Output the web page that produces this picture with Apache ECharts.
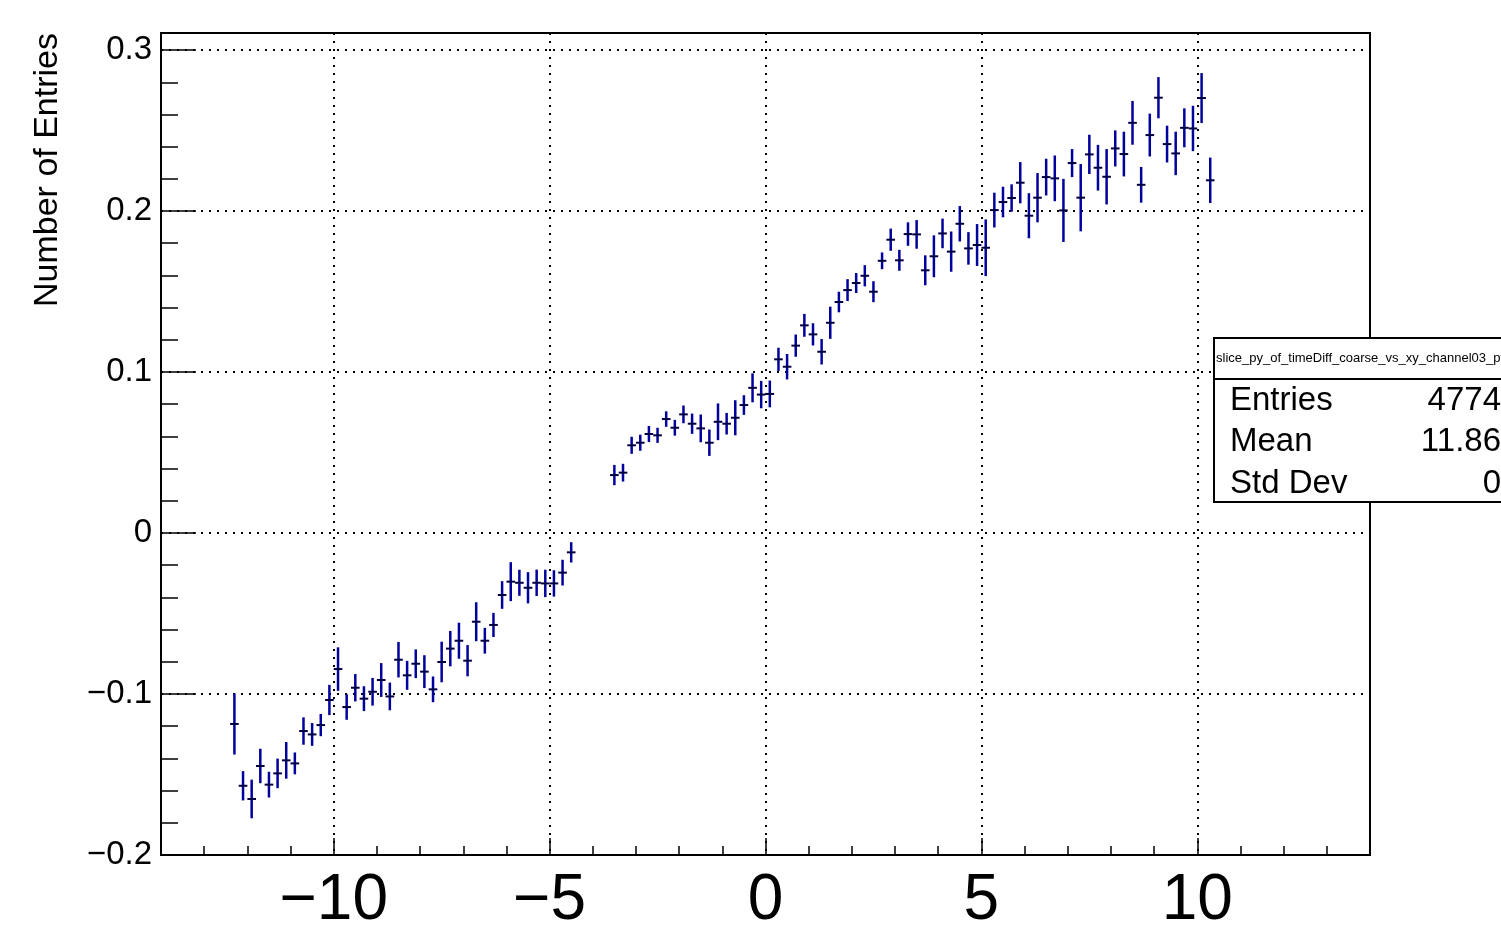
<!DOCTYPE html>
<html>
<head>
<meta charset="utf-8">
<title>slice_py_of_timeDiff_coarse_vs_xy_channel03</title>
<script src="https://cdn.jsdelivr.net/npm/echarts@6/dist/echarts.min.js"></script>
<style>
  html, body { margin: 0; padding: 0; background: #fff; }
  #chart { width: 1501px; height: 925px; }
</style>
</head>
<body>
<div id="chart"></div>
<script>
// Bin centres (bin width 0.2); the empty bins between -4.5 and -3.5 are left out
const binCenters = [
  -12.3, -12.1, -11.9, -11.7, -11.5, -11.3, -11.1, -10.9, -10.7, -10.5,
  -10.3, -10.1, -9.9, -9.7, -9.5, -9.3, -9.1, -8.9, -8.7, -8.5,
  -8.3, -8.1, -7.9, -7.7, -7.5, -7.3, -7.1, -6.9, -6.7, -6.5,
  -6.3, -6.1, -5.9, -5.7, -5.5, -5.3, -5.1, -4.9, -4.7, -4.5,
  -3.5, -3.3, -3.1, -2.9, -2.7, -2.5, -2.3, -2.1, -1.9, -1.7,
  -1.5, -1.3, -1.1, -0.9, -0.7, -0.5, -0.3, -0.1, 0.1, 0.3,
  0.5, 0.7, 0.9, 1.1, 1.3, 1.5, 1.7, 1.9, 2.1, 2.3,
  2.5, 2.7, 2.9, 3.1, 3.3, 3.5, 3.7, 3.9, 4.1, 4.3,
  4.5, 4.7, 4.9, 5.1, 5.3, 5.5, 5.7, 5.9, 6.1, 6.3,
  6.5, 6.7, 6.9, 7.1, 7.3, 7.5, 7.7, 7.9, 8.1, 8.3,
  8.5, 8.7, 8.9, 9.1, 9.3, 9.5, 9.7, 9.9, 10.1, 10.3
];

// Bin contents
const binValues = [
  -0.1186, -0.1570, -0.1652, -0.1447, -0.1563, -0.1493, -0.1412, -0.1431, -0.1230, -0.1251,
  -0.1193, -0.1037, -0.0845, -0.1081, -0.0961, -0.1029, -0.0986, -0.0913, -0.1015, -0.0787,
  -0.0884, -0.0812, -0.0861, -0.0971, -0.0801, -0.0718, -0.0669, -0.0793, -0.0551, -0.0669,
  -0.0571, -0.0385, -0.0302, -0.0309, -0.0340, -0.0309, -0.0313, -0.0313, -0.0246, -0.0120,
  0.0360, 0.0375, 0.0545, 0.0561, 0.0615, 0.0607, 0.0708, 0.0654, 0.0737, 0.0679,
  0.0650, 0.0561, 0.0691, 0.0679, 0.0716, 0.0795, 0.0902, 0.0860, 0.0864, 0.1079,
  0.1033, 0.1164, 0.1290, 0.1234, 0.1126, 0.1306, 0.1435, 0.1509, 0.1553, 0.1598,
  0.1499, 0.1691, 0.1822, 0.1694, 0.1857, 0.1855, 0.1632, 0.1719, 0.1861, 0.1748,
  0.1921, 0.1768, 0.1789, 0.1772, 0.2006, 0.2056, 0.2081, 0.2176, 0.1971, 0.2083,
  0.2211, 0.2203, 0.2004, 0.2298, 0.2083, 0.2352, 0.2269, 0.2213, 0.2389, 0.2354,
  0.2548, 0.2163, 0.2472, 0.2704, 0.2416, 0.2358, 0.2517, 0.2513, 0.2702, 0.2191
];

// Bin errors
const binErrors = [
  0.0190, 0.0091, 0.0120, 0.0107, 0.0080, 0.0092, 0.0114, 0.0068, 0.0085, 0.0071,
  0.0069, 0.0094, 0.0135, 0.0079, 0.0085, 0.0077, 0.0086, 0.0105, 0.0086, 0.0110,
  0.0090, 0.0089, 0.0102, 0.0080, 0.0126, 0.0110, 0.0112, 0.0097, 0.0121, 0.0080,
  0.0075, 0.0086, 0.0121, 0.0081, 0.0097, 0.0082, 0.0085, 0.0082, 0.0080, 0.0063,
  0.0063, 0.0055, 0.0053, 0.0050, 0.0050, 0.0047, 0.0048, 0.0049, 0.0055, 0.0063,
  0.0086, 0.0082, 0.0114, 0.0067, 0.0109, 0.0061, 0.0090, 0.0085, 0.0083, 0.0072,
  0.0079, 0.0069, 0.0071, 0.0069, 0.0079, 0.0100, 0.0064, 0.0068, 0.0062, 0.0066,
  0.0065, 0.0052, 0.0069, 0.0065, 0.0073, 0.0089, 0.0093, 0.0130, 0.0092, 0.0125,
  0.0110, 0.0101, 0.0130, 0.0176, 0.0108, 0.0095, 0.0085, 0.0128, 0.0140, 0.0153,
  0.0114, 0.0142, 0.0196, 0.0087, 0.0209, 0.0122, 0.0142, 0.0172, 0.0112, 0.0139,
  0.0136, 0.0111, 0.0133, 0.0128, 0.0114, 0.0135, 0.0121, 0.0141, 0.0155, 0.0141
];

const binWidth = 0.2;

// Axis ticks
const xMajorTicks = [-10, -5, 0, 5, 10];
const yMajorTicks = [-0.2, -0.1, 0, 0.1, 0.2, 0.3];

// Stats box
const statsTitle = 'slice_py_of_timeDiff_coarse_vs_xy_channel03_py';
const statsNames = ['Entries', 'Mean', 'Std Dev'];
const statsValues = ['4774', '11.86', '0'];

const FONT = '"Liberation Sans", Arial, Helvetica, sans-serif';
const MINUS = '\u2212';

function fmt(v) {
  const r = Math.round(v * 1000) / 1000;
  if (r === 0) return '0';
  return r < 0 ? MINUS + String(-r) : String(r);
}

const seriesData = binCenters.map((x, i) => [x, binValues[i], binErrors[i]]);

const dotted = { color: '#000', width: 2, type: [2, 6] };

const chart = echarts.init(document.getElementById('chart'), null, { renderer: 'canvas' });

const statsGraphic = [
  {
    type: 'rect', z: 100,
    shape: { x: 1214, y: 338, width: 400, height: 164 },
    style: { fill: '#fff', stroke: '#000', lineWidth: 2 }
  },
  {
    type: 'line', z: 101,
    shape: { x1: 1214, y1: 379, x2: 1614, y2: 379 },
    style: { stroke: '#000', lineWidth: 2 }
  },
  {
    type: 'text', z: 101, x: 1216, y: 358,
    style: { text: statsTitle, font: '13px ' + FONT, fill: '#000', textVerticalAlign: 'middle' }
  }
];
const rowY = [401, 442, 484];
statsNames.forEach((name, i) => {
  statsGraphic.push({
    type: 'text', z: 101, x: 1230, y: rowY[i],
    style: { text: name, font: '33px ' + FONT, fill: '#000', textVerticalAlign: 'middle' }
  });
  statsGraphic.push({
    type: 'text', z: 101, x: 1501, y: rowY[i],
    style: { text: statsValues[i], font: '33px ' + FONT, fill: '#000', textAlign: 'right', textVerticalAlign: 'middle' }
  });
});

const option = {
  animation: false,
  backgroundColor: '#fff',
  grid: {
    left: 161, right: 131, top: 33, bottom: 70,
    containLabel: false, outerBoundsMode: 'none',
    show: true, borderColor: '#000', borderWidth: 2, backgroundColor: 'transparent'
  },
  xAxis: [
    {
      type: 'value', min: -14, max: 14, interval: 1,
      axisLine: { show: true, onZero: false, lineStyle: { color: '#000', width: 2 } },
      axisTick: { show: true, inside: true, length: 9, lineStyle: { color: '#000', width: 1.5 } },
      axisLabel: { show: false },
      splitLine: { show: false }
    },
    {
      type: 'value', min: -14, max: 14, position: 'bottom',
      axisLine: { show: false, onZero: false },
      axisTick: { show: true, inside: true, length: 17, customValues: xMajorTicks, lineStyle: { color: '#000', width: 1.5 } },
      axisLabel: {
        show: true, customValues: xMajorTicks, margin: 14,
        fontSize: 64, fontFamily: FONT, color: '#000', formatter: fmt
      },
      splitLine: { show: true, lineStyle: dotted }
    }
  ],
  yAxis: {
    type: 'value', min: -0.2, max: 0.3106, interval: 0.1,
    axisLine: { show: true, onZero: false, lineStyle: { color: '#000', width: 2 } },
    axisTick: { show: true, inside: true, length: 35, customValues: yMajorTicks, lineStyle: { color: '#000', width: 1.5 } },
    minorTick: { show: true, splitNumber: 5, length: 17, lineStyle: { color: '#000', width: 1.5 } },
    axisLabel: {
      show: true, customValues: yMajorTicks, margin: 9,
      fontSize: 33, fontFamily: FONT, color: '#000', formatter: fmt
    },
    splitLine: { show: true, lineStyle: dotted }
  },
  graphic: [
    {
      type: 'text', x: 48, y: 33, rotation: Math.PI / 2,
      style: {
        text: 'Number of Entries', font: '34px ' + FONT, fill: '#000',
        textAlign: 'right', textVerticalAlign: 'middle'
      }
    }
  ].concat(statsGraphic),
  series: [
    {
      type: 'custom',
      xAxisIndex: 0,
      yAxisIndex: 0,
      clip: true,
      data: seriesData,
      encode: { x: 0, y: 1 },
      renderItem: function (params, api) {
        const x = api.value(0), y = api.value(1), e = api.value(2);
        const top = api.coord([x, y + e]);
        const bot = api.coord([x, y - e]);
        const left = api.coord([x - binWidth / 2, y]);
        const right = api.coord([x + binWidth / 2, y]);
        return {
          type: 'group',
          children: [
            {
              type: 'line',
              shape: { x1: top[0], y1: top[1], x2: bot[0], y2: bot[1] },
              style: { stroke: '#00009c', lineWidth: 2.5 }
            },
            {
              type: 'line',
              shape: { x1: left[0], y1: left[1], x2: right[0], y2: right[1] },
              style: { stroke: '#000040', lineWidth: 2 }
            }
          ]
        };
      }
    }
  ]
};

chart.setOption(option);
</script>
</body>
</html>
